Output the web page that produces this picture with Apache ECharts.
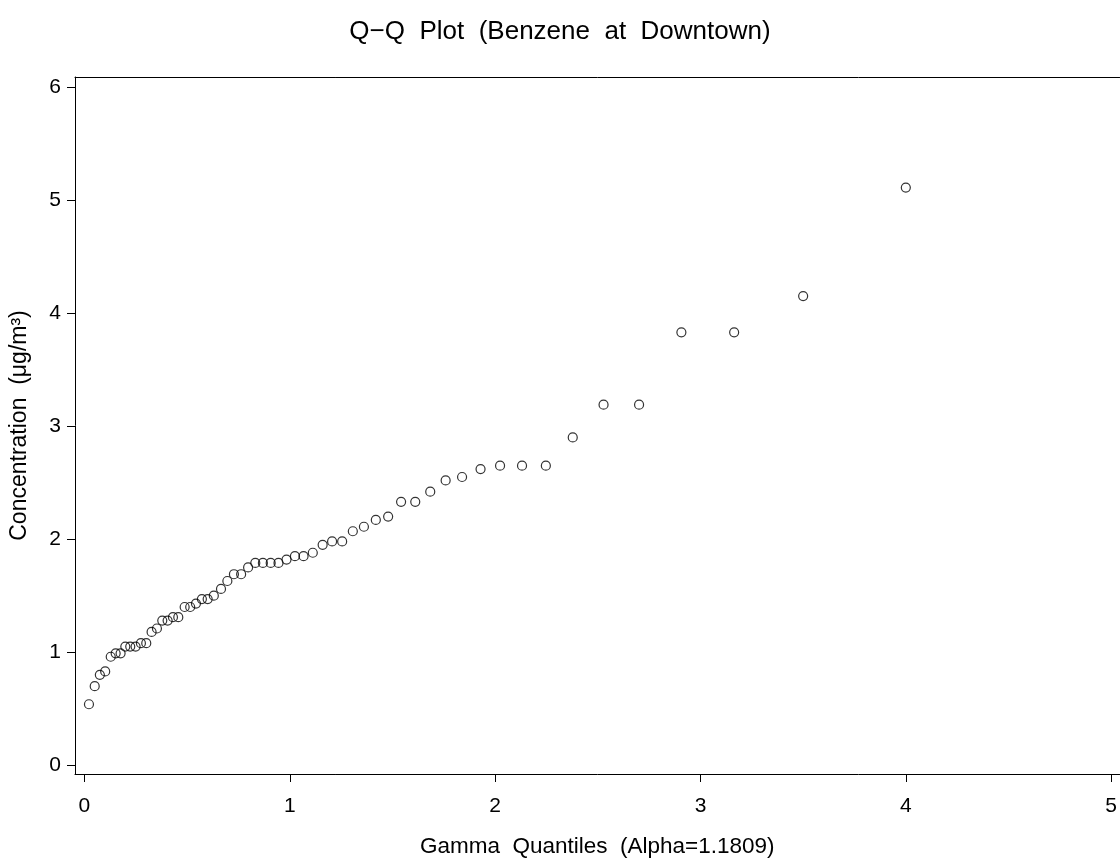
<!DOCTYPE html>
<html>
<head>
<meta charset="utf-8">
<script src="https://cdn.jsdelivr.net/npm/echarts@6/dist/echarts.min.js"></script>
<style>
  html, body { margin: 0; padding: 0; background: #fff; }
  #chart { width: 1120px; height: 863px; }
</style>
</head>
<body>
<div id="chart"></div>
<script>
// Gamma quantiles (x)
const gammaQuantiles = [
  0.022, 0.050, 0.075, 0.101, 0.128, 0.152, 0.176, 0.199, 0.223, 0.249,
  0.275, 0.301, 0.327, 0.353, 0.379, 0.405, 0.431, 0.457, 0.488, 0.515,
  0.543, 0.572, 0.600, 0.630, 0.665, 0.696, 0.728, 0.763, 0.797, 0.832,
  0.869, 0.907, 0.945, 0.984, 1.025, 1.067, 1.112, 1.160, 1.206, 1.255,
  1.307, 1.361, 1.419, 1.479, 1.542, 1.611, 1.684, 1.759, 1.839, 1.929,
  2.024, 2.131, 2.247, 2.378, 2.528, 2.701, 2.907, 3.164, 3.500, 4.000
];
// Ordered benzene concentrations (µg/m³)
const concentrations = [
  0.54, 0.70, 0.80, 0.83, 0.96, 0.99, 0.99, 1.05, 1.05, 1.05,
  1.08, 1.08, 1.18, 1.21, 1.28, 1.28, 1.31, 1.31, 1.40, 1.40,
  1.43, 1.47, 1.47, 1.50, 1.56, 1.63, 1.69, 1.69, 1.75, 1.79,
  1.79, 1.79, 1.79, 1.82, 1.85, 1.85, 1.88, 1.95, 1.98, 1.98,
  2.07, 2.11, 2.17, 2.20, 2.33, 2.33, 2.42, 2.52, 2.55, 2.62,
  2.65, 2.65, 2.65, 2.90, 3.19, 3.19, 3.83, 3.83, 4.15, 5.11
];
const xTicks = [0, 1, 2, 3, 4, 5];
const yTicks = [0, 1, 2, 3, 4, 5, 6];

const titleText = 'Q\u2212Q  Plot  (Benzene  at  Downtown)';
const xTitle = 'Gamma  Quantiles  (Alpha=1.1809)';
const yTitle = 'Concentration  (\u03bcg/m\u00b3)';

const points = gammaQuantiles.map((q, i) => [q, concentrations[i]]);

const FONT = '"Liberation Sans", Arial, Helvetica, sans-serif';
const chart = echarts.init(document.getElementById('chart'), null, { renderer: 'canvas' });

chart.setOption({
  backgroundColor: '#ffffff',
  animation: false,
  title: {
    text: titleText,
    left: 'center',
    top: 14,
    textStyle: { fontFamily: FONT, fontSize: 26, fontWeight: 'normal', color: '#000' }
  },
  grid: { left: 75, top: 77, right: 0, bottom: 82, containLabel: false },
  xAxis: [{
    type: 'value',
    position: 'bottom',
    min: -0.046,
    max: 5.041,
    name: xTitle,
    nameLocation: 'middle',
    nameGap: 61,
    nameTextStyle: { fontFamily: FONT, fontSize: 22.5, color: '#000' },
    axisLine: { show: true, onZero: false, lineStyle: { color: '#000', width: 1 } },
    axisTick: { show: true, length: 8, inside: false, customValues: xTicks, lineStyle: { color: '#000', width: 1 } },
    axisLabel: { customValues: xTicks, margin: 22, fontFamily: FONT, fontSize: 21, color: '#000' },
    splitLine: { show: false }
  }, {
    type: 'value',
    position: 'top',
    min: -0.046,
    max: 5.041,
    axisLine: { show: true, onZero: false, lineStyle: { color: '#000', width: 1 } },
    axisTick: { show: false },
    axisLabel: { show: false },
    splitLine: { show: false }
  }],
  yAxis: {
    type: 'value',
    position: 'left',
    min: -0.077,
    max: 6.088,
    name: yTitle,
    nameLocation: 'middle',
    nameGap: 44,
    nameRotate: 90,
    nameTextStyle: { fontFamily: FONT, fontSize: 23, color: '#000' },
    axisLine: { show: true, onZero: false, lineStyle: { color: '#000', width: 1 } },
    axisTick: { show: true, length: 8, inside: false, customValues: yTicks, lineStyle: { color: '#000', width: 1 } },
    axisLabel: { customValues: yTicks, margin: 14, fontFamily: FONT, fontSize: 21, color: '#000' },
    splitLine: { show: false }
  },
  series: [{
    type: 'scatter',
    xAxisIndex: 0,
    data: points,
    symbol: 'circle',
    symbolSize: 9,
    itemStyle: { color: 'rgba(0,0,0,0)', borderColor: '#000', borderWidth: 1.2 },
    emphasis: { disabled: true }
  }]
});
</script>
</body>
</html>
